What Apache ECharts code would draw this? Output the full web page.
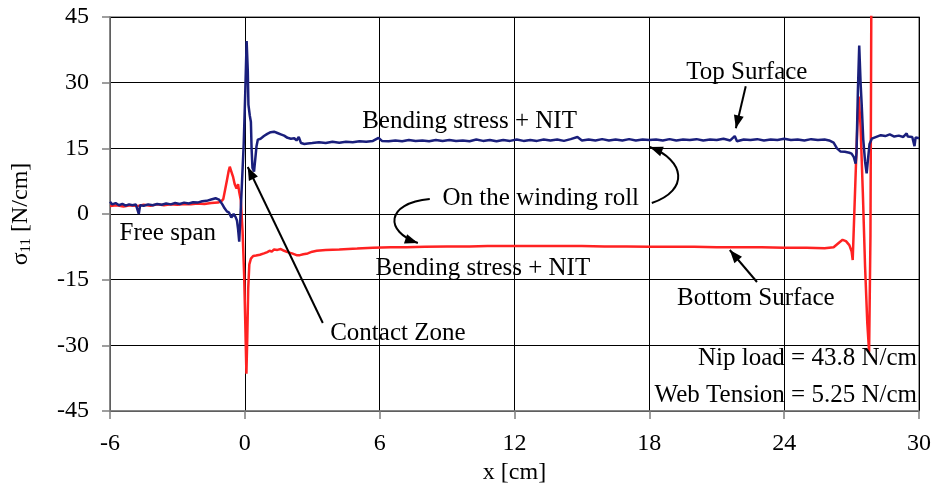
<!DOCTYPE html>
<html>
<head>
<meta charset="utf-8">
<script src="https://cdn.jsdelivr.net/npm/echarts@6/dist/echarts.min.js"></script>
<style>
  html, body { margin: 0; padding: 0; background: #fff; }
  #chart { width: 935px; height: 487px; }
</style>
</head>
<body>
<div id="chart"></div>
<script>
// Axis ranges and tick steps
const xTicks = [-6, 0, 6, 12, 18, 24, 30];
const yTicks = [-45, -30, -15, 0, 15, 30, 45];

// Stress on the top surface of the web, [x (cm), sigma11 (N/cm)]
const topSurface = [
  [-6.0, 2.8], [-5.9, 2.2], [-5.75, 2.5], [-5.6, 2.0], [-5.45, 2.3], [-5.3, 1.9],
  [-5.15, 2.2], [-5.0, 2.0], [-4.85, 2.2], [-4.72, 0.0], [-4.66, 2.0], [-4.5, 1.9],
  [-4.3, 2.2], [-4.1, 2.0], [-3.9, 2.3], [-3.7, 2.1], [-3.5, 2.4], [-3.3, 2.2],
  [-3.1, 2.5], [-2.9, 2.3], [-2.7, 2.6], [-2.5, 2.4], [-2.3, 2.7], [-2.1, 2.6],
  [-1.9, 2.9], [-1.7, 3.0], [-1.5, 3.3], [-1.3, 3.6], [-1.15, 3.3], [-1.0, 2.2],
  [-0.9, 1.3], [-0.8, 0.6], [-0.7, 0.3], [-0.6, -0.8], [-0.5, 0.0], [-0.42, -0.6],
  [-0.35, -1.5], [-0.3, -3.5], [-0.25, -6.3], [-0.2, -1.0], [-0.12, 8.0], [-0.05, 16.0],
  [0.02, 28.0], [0.08, 39.5], [0.13, 33.0], [0.16, 25.0], [0.22, 22.5], [0.27, 21.0],
  [0.3, 15.0], [0.34, 10.5], [0.41, 9.7], [0.48, 9.7], [0.52, 15.5], [0.58, 17.0],
  [0.7, 17.2], [0.85, 17.8], [1.0, 18.3], [1.15, 18.7], [1.3, 18.8], [1.45, 18.5],
  [1.6, 18.2], [1.75, 17.9], [1.9, 17.4], [2.05, 17.2], [2.2, 17.3], [2.3, 16.8],
  [2.4, 17.6], [2.5, 16.2], [2.65, 16.0], [2.8, 16.1], [3.0, 16.2], [3.3, 16.4],
  [3.6, 16.2], [3.9, 16.5], [4.2, 16.3], [4.5, 16.5], [4.8, 16.4], [5.1, 16.6],
  [5.4, 16.5], [5.7, 16.7], [5.95, 17.4], [6.1, 16.7], [6.4, 16.6], [6.7, 16.8],
  [7.0, 16.6], [7.3, 16.9], [7.6, 16.7], [7.9, 16.8], [8.2, 16.6], [8.5, 16.9],
  [8.8, 16.7], [9.1, 16.9], [9.4, 16.7], [9.7, 16.8], [10.0, 16.6], [10.3, 17.0],
  [10.6, 16.7], [10.9, 16.9], [11.2, 16.6], [11.5, 16.9], [11.8, 16.7], [12.1, 17.0],
  [12.4, 16.7], [12.7, 16.9], [13.0, 16.7], [13.3, 17.0], [13.6, 16.8], [13.9, 17.0],
  [14.2, 16.7], [14.5, 17.1], [14.8, 17.6], [15.0, 16.8], [15.3, 17.0], [15.6, 16.8],
  [15.9, 17.1], [16.2, 16.8], [16.5, 17.0], [16.8, 16.8], [17.1, 17.1], [17.4, 16.8],
  [17.7, 17.0], [18.0, 16.9], [18.3, 17.0], [18.6, 16.8], [18.9, 17.1], [19.2, 16.8],
  [19.5, 17.0], [19.8, 16.9], [20.1, 17.1], [20.4, 16.8], [20.7, 17.0], [21.0, 16.9],
  [21.3, 17.2], [21.6, 16.8], [21.8, 17.8], [21.9, 16.6], [22.2, 17.0], [22.5, 16.9],
  [22.8, 17.1], [23.1, 16.8], [23.4, 17.0], [23.7, 16.9], [24.0, 17.2], [24.3, 16.9],
  [24.6, 17.0], [24.9, 16.8], [25.2, 17.1], [25.5, 16.9], [25.8, 17.0], [26.0, 16.8],
  [26.2, 16.3], [26.35, 15.0], [26.5, 14.3], [26.7, 14.2], [26.9, 14.0], [27.0, 13.8],
  [27.1, 13.0], [27.18, 11.5], [27.22, 14.0], [27.28, 28.0], [27.34, 38.5], [27.4, 30.0],
  [27.45, 25.0], [27.52, 17.0], [27.6, 12.0], [27.67, 9.3], [27.74, 13.0], [27.8, 16.0],
  [27.9, 17.2], [28.1, 17.6], [28.3, 18.0], [28.5, 17.8], [28.7, 18.2], [28.9, 17.7],
  [29.1, 17.9], [29.3, 17.6], [29.45, 18.4], [29.5, 17.7], [29.7, 17.6], [29.8, 15.5],
  [29.85, 17.5], [30.0, 17.3]
];

// Stress on the bottom surface of the web, [x (cm), sigma11 (N/cm)]
const bottomSurface = [
  [-6.0, 1.8], [-5.7, 2.0], [-5.4, 1.7], [-5.1, 2.0], [-4.8, 1.8], [-4.5, 2.1],
  [-4.2, 1.9], [-3.9, 2.2], [-3.6, 2.0], [-3.3, 2.2], [-3.0, 2.1], [-2.7, 2.3],
  [-2.4, 2.2], [-2.1, 2.4], [-1.8, 2.3], [-1.5, 2.5], [-1.2, 2.6], [-1.05, 2.9],
  [-0.96, 3.4], [-0.88, 5.5], [-0.8, 7.6], [-0.72, 9.8], [-0.67, 10.8], [-0.6, 9.7],
  [-0.52, 8.4], [-0.45, 6.8], [-0.37, 5.8], [-0.3, 6.8], [-0.25, 5.0], [-0.18, 3.2],
  [-0.1, -4.0], [-0.03, -14.0], [0.02, -25.0], [0.07, -36.5], [0.11, -28.0], [0.15, -17.0],
  [0.2, -11.5], [0.27, -10.2], [0.37, -9.6], [0.5, -9.5], [0.67, -9.3], [0.85, -9.0],
  [1.0, -8.7], [1.1, -8.4], [1.2, -8.6], [1.3, -8.1], [1.45, -8.2], [1.6, -8.0],
  [1.75, -8.4], [1.9, -8.7], [2.1, -9.0], [2.3, -9.4], [2.45, -9.4], [2.6, -9.2],
  [2.8, -9.0], [3.0, -8.6], [3.2, -8.4], [3.6, -8.2], [4.2, -8.1], [5.0, -7.9],
  [5.7, -7.7], [6.5, -7.6], [7.2, -7.6], [8.0, -7.5], [9.0, -7.4], [10.0, -7.4],
  [10.8, -7.3], [12.0, -7.3], [13.0, -7.3], [14.0, -7.3], [15.0, -7.3], [16.0, -7.4],
  [17.0, -7.4], [18.0, -7.5], [19.0, -7.5], [20.0, -7.5], [21.0, -7.6], [22.0, -7.6],
  [23.0, -7.6], [24.0, -7.7], [25.0, -7.7], [25.8, -7.8], [26.2, -7.6], [26.45, -6.5],
  [26.6, -5.9], [26.75, -6.2], [26.9, -7.1], [27.0, -8.5], [27.05, -10.5], [27.12, 0.0],
  [27.2, 12.0], [27.27, 22.0], [27.32, 26.8], [27.4, 20.0], [27.5, 5.0], [27.6, -12.0],
  [27.7, -25.0], [27.78, -31.5], [27.84, -5.0], [27.88, 50.0]
];

// Annotation texts, placed in data units [x, y]
const labelText = [
  'Top Surface', 'Bending stress + NIT', 'On the winding roll', 'Free span',
  'Contact Zone', 'Bending stress + NIT', 'Bottom Surface',
  'Nip load = 43.8 N/cm', 'Web Tension = 5.25 N/cm'
];
const labelAt = [
  [22.34, 32.4], [10.0, 21.2], [13.17, 3.65], [-3.43, -4.34],
  [6.81, -27.17], [10.59, -12.33], [22.74, -19.18],
  [29.91, -32.9], [29.91, -41.55]
];
const labelAlign = ['center', 'center', 'center', 'center', 'center', 'center', 'center', 'right', 'right'];

// Straight pointer arrows: [from, tip] in data units
const straightArrows = [
  [[22.29, 29.2], [21.85, 19.6]],
  [[3.47, -24.89], [0.13, 10.73]],
  [[22.79, -15.53], [21.58, -8.22]]
];
// Curved pointer arrows: [start, control1, control2, tip] in data units
const curvedArrows = [
  [[8.23, 3.42], [6.23, 2.51], [6.23, -4.11], [7.70, -6.62]],
  [[18.11, 2.51], [19.80, 5.48], [19.58, 12.33], [18.02, 15.30]]
];

const FONT = '"Liberation Serif", "Times New Roman", serif';
const axisGray = '#7f7f7f';

const chart = echarts.init(document.getElementById('chart'), null, { renderer: 'canvas' });

chart.setOption({
  animation: false,
  backgroundColor: '#fff',
  grid: {
    left: 110, right: 16, top: 17, bottom: 76,
    outerBoundsMode: 'none', containLabel: false,
    show: true, borderColor: axisGray, borderWidth: 1.5, backgroundColor: 'transparent'
  },
  xAxis: {
    type: 'value',
    min: xTicks[0], max: xTicks[xTicks.length - 1],
    interval: xTicks[1] - xTicks[0],
    name: 'x [cm]',
    nameLocation: 'middle',
    nameGap: 33,
    nameTextStyle: { fontFamily: FONT, fontSize: 24, color: '#000' },
    axisLine: { show: true, onZero: false, lineStyle: { color: axisGray, width: 1.5 } },
    axisTick: { show: true, inside: false, length: 8, lineStyle: { color: axisGray, width: 1.5 } },
    axisLabel: { fontFamily: FONT, fontSize: 24, color: '#000', margin: 21 },
    splitLine: { show: true, lineStyle: { color: '#000', width: 1 } }
  },
  yAxis: {
    type: 'value',
    min: yTicks[0], max: yTicks[yTicks.length - 1],
    interval: yTicks[1] - yTicks[0],
    name: '{m|σ}{s|11}{m| [N/cm]}',
    nameLocation: 'middle',
    nameRotate: 90,
    nameGap: 74,
    nameTextStyle: {
      fontFamily: FONT, color: '#000',
      rich: {
        m: { fontFamily: FONT, fontSize: 24, color: '#000', lineHeight: 30, verticalAlign: 'middle' },
        s: { fontFamily: FONT, fontSize: 15, color: '#000', lineHeight: 15, verticalAlign: 'bottom', padding: [0, 0, 2, 0] }
      }
    },
    axisLine: { show: true, onZero: false, lineStyle: { color: axisGray, width: 1.5 } },
    axisTick: { show: true, inside: false, length: 8, lineStyle: { color: axisGray, width: 1.5 } },
    axisLabel: { fontFamily: FONT, fontSize: 24, color: '#000', margin: 21 },
    splitLine: { show: true, lineStyle: { color: '#000', width: 1 } }
  },
  series: [
    {
      name: 'Bottom Surface', type: 'line', data: bottomSurface,
      showSymbol: false, clip: true, z: 3,
      lineStyle: { color: '#ff2222', width: 2.5 }
    },
    {
      name: 'Top Surface', type: 'line', data: topSurface,
      showSymbol: false, clip: true, z: 4,
      lineStyle: { color: '#1a1f7c', width: 2.5 }
    }
  ]
});

// Annotations: convert data positions to pixels and draw texts and arrows
function px(p) { return chart.convertToPixel({ gridIndex: 0 }, p); }

function arrowHead(tip, from, len, half) {
  const dx = tip[0] - from[0], dy = tip[1] - from[1];
  const d = Math.hypot(dx, dy) || 1;
  const ux = dx / d, uy = dy / d;
  const bx = tip[0] - ux * len, by = tip[1] - uy * len;
  return {
    type: 'polygon', z: 100,
    shape: { points: [tip, [bx - uy * half, by + ux * half], [bx + uy * half, by - ux * half]] },
    style: { fill: '#000' }
  };
}

const graphics = [];
labelText.forEach((t, i) => {
  const p = px(labelAt[i]);
  graphics.push({
    type: 'text', x: p[0], y: p[1], z: 100,
    style: { text: t, font: '25px ' + FONT, fill: '#000', align: labelAlign[i], verticalAlign: 'middle' }
  });
});
straightArrows.forEach(a => {
  const s = px(a[0]), t = px(a[1]);
  graphics.push({
    type: 'line', z: 100,
    shape: { x1: s[0], y1: s[1], x2: t[0], y2: t[1] },
    style: { stroke: '#000', lineWidth: 2 }
  });
  graphics.push(arrowHead(t, s, 13, 5));
});
curvedArrows.forEach(a => {
  const p0 = px(a[0]), c1 = px(a[1]), c2 = px(a[2]), p3 = px(a[3]);
  graphics.push({
    type: 'bezierCurve', z: 100,
    shape: { x1: p0[0], y1: p0[1], cpx1: c1[0], cpy1: c1[1], cpx2: c2[0], cpy2: c2[1], x2: p3[0], y2: p3[1] },
    style: { stroke: '#000', lineWidth: 2, fill: null }
  });
  graphics.push(arrowHead(p3, c2, 13, 5));
});

chart.setOption({ graphic: graphics });
</script>
</body>
</html>
